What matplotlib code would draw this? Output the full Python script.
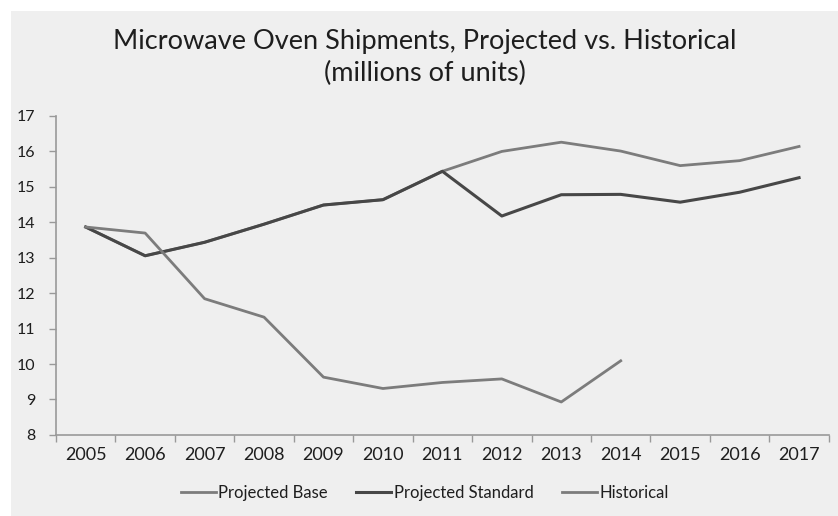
import matplotlib
matplotlib.use("Agg")
import matplotlib.pyplot as plt
from matplotlib.patches import Rectangle
import numpy as np

# ─── Data ────────────────────────────────────────────────────
years = ['2005', '2006', '2007', '2008', '2009', '2010', '2011',
         '2012', '2013', '2014', '2015', '2016', '2017']
projected_base = [13.86, 13.05, 13.43, 13.94, 14.48, 14.63, 15.43,
                  15.99, 16.25, 16.0, 15.59, 15.73, 16.13]
projected_standard = [13.86, 13.05, 13.43, 13.94, 14.48, 14.63, 15.43,
                      14.17, 14.77, 14.78, 14.56, 14.84, 15.25]
historical = [13.86, 13.69, 11.84, 11.32, 9.63, 9.31, 9.48,
              9.58, 8.93, 10.09]
y_ticks = [8, 9, 10, 11, 12, 13, 14, 15, 16, 17]

BG = '#efefef'
LIGHT = '#7c7c7c'
DARK = '#474747'
TXT = '#1e1e1e'
AXC = '#999999'

plt.rcParams['font.family'] = ['Lato', 'DejaVu Sans']

fig = plt.figure(figsize=(8.38, 5.16), dpi=100)
fig.patch.set_facecolor('white')
# grey panel, thin white strip on top and left like the source image
fig.patches.append(Rectangle((11 / 838, 0), 1 - 11 / 838, 1 - 11 / 516,
                             transform=fig.transFigure, facecolor=BG,
                             edgecolor='none', zorder=-10))

ax = fig.add_axes([0.0668, 0.157, 0.9222, 0.619])
ax.set_facecolor(BG)

x = np.arange(len(years))
ax.plot(x, projected_base, color=LIGHT, lw=2.0, label='Projected Base')
ax.plot(x, projected_standard, color=DARK, lw=2.2, label='Projected Standard')
ax.plot(x[:len(historical)], historical, color=LIGHT, lw=2.0, label='Historical')

ax.set_xlim(-0.5, len(years) - 0.5)
ax.set_ylim(8, 17)
ax.set_yticks(y_ticks)
ax.set_yticklabels([str(v) for v in y_ticks], fontsize=11.5, color=TXT)

# category labels centred, ticks on the boundaries
ax.set_xticks(x)
ax.set_xticklabels(years, fontsize=13, color=TXT)
ax.tick_params(axis='x', which='major', length=0, pad=9)
ax.set_xticks(np.arange(len(years) + 1) - 0.5, minor=True)
ax.tick_params(axis='x', which='minor', length=5, color=AXC, width=1)
ax.tick_params(axis='y', length=5, color=AXC, width=1, pad=10)

for side in ('top', 'right'):
    ax.spines[side].set_visible(False)
for side in ('left', 'bottom'):
    ax.spines[side].set_color(AXC)
    ax.spines[side].set_linewidth(1.2)

fig.text(0.5 + 5.5 / 838, 1 - 41 / 516, 'Microwave Oven Shipments, Projected vs. Historical',
         ha='center', va='center', fontsize=19.5, color=TXT)
fig.text(0.5 + 5.5 / 838, 1 - 73 / 516, '(millions of units)',
         ha='center', va='center', fontsize=19.5, color=TXT)

fig.legend(loc='center', bbox_to_anchor=(0.5 + 5.5 / 838, 1 - 493 / 516), ncol=3,
           frameon=False, fontsize=12, handlelength=2.1, handletextpad=0.15,
           columnspacing=1.7, labelcolor=TXT)

fig.savefig('out.png', dpi=100, facecolor=fig.get_facecolor())
